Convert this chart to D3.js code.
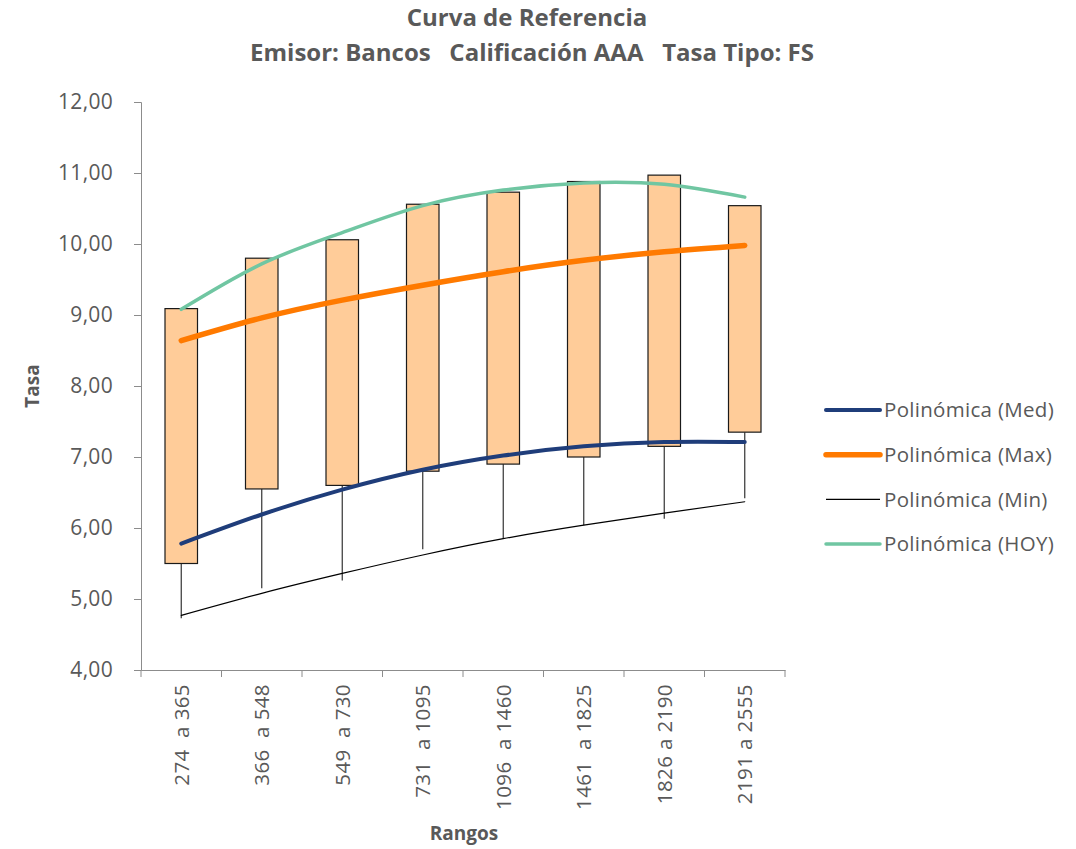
<!DOCTYPE html>
<html>
<head>
<meta charset="utf-8">
<script src="https://cdn.jsdelivr.net/npm/d3@7"></script>
<style>
  body { margin: 0; background: #fff; }
  text { font-family: "Open Sans", sans-serif; fill: #595959; }
</style>
</head>
<body>
<svg id="chart" width="1076" height="849"></svg>
<script>
// categories (rangos de días)
const categories = ["274  a 365", "366  a 548", "549  a 730", "731  a 1095",
                    "1096  a 1460", "1461  a 1825", "1826 a 2190", "2191 a 2555"];

// boxes: bottom / top of the box and bottom of the whisker
const boxLow     = [5.50, 6.55, 6.60, 6.80, 6.90, 7.00, 7.15, 7.35];
const boxHigh    = [9.09, 9.80, 10.06, 10.56, 10.73, 10.88, 10.97, 10.54];
const whiskerLow = [4.73, 5.15, 5.26, 5.70, 5.85, 6.04, 6.13, 6.42];

// trend lines (polinómica) read at each category
const trendMed = [5.78, 6.19, 6.54, 6.82, 7.02, 7.15, 7.21, 7.21];
const trendMax = [8.64, 8.96, 9.21, 9.42, 9.61, 9.77, 9.89, 9.98];
const trendMin = [4.77, 5.08, 5.36, 5.62, 5.85, 6.04, 6.21, 6.37];
const trendHoy = [9.08, 9.72, 10.16, 10.54, 10.76, 10.86, 10.84, 10.66];

const yTicks = [4, 5, 6, 7, 8, 9, 10, 11, 12];

const series = [
  { name: "Polinómica (Med)", values: trendMed, color: "#1f3d7a", width: 4 },
  { name: "Polinómica (Max)", values: trendMax, color: "#ff7a00", width: 5.5 },
  { name: "Polinómica (Min)", values: trendMin, color: "#000000", width: 1.2 },
  { name: "Polinómica (HOY)", values: trendHoy, color: "#70c6a2", width: 3.5 }
];

const svg = d3.select("#chart");
const mLeft = 141, mRight = 785, mTop = 102, mBottom = 670;

const x = d3.scaleBand().domain(categories).range([mLeft, mRight]);
const y = d3.scaleLinear().domain([4, 12]).range([mBottom, mTop]);
const fmt = d => d.toFixed(2).replace(".", ",");

// titles
svg.append("text").attr("x", 527).attr("y", 26).attr("text-anchor", "middle")
  .style("font-weight", "bold").style("font-size", "24px")
  .text("Curva de Referencia");
svg.append("text").attr("x", 532).attr("y", 61).attr("text-anchor", "middle")
  .style("font-weight", "bold").style("font-size", "24px").style("white-space", "pre")
  .text("Emisor: Bancos   Calificación AAA   Tasa Tipo: FS");

// y axis
const yAxis = svg.append("g").attr("transform", `translate(${mLeft},0)`)
  .call(d3.axisLeft(y).tickValues(yTicks).tickFormat(fmt).tickSize(7).tickPadding(21));
yAxis.select(".domain").attr("stroke", "#8c8c8c");
yAxis.selectAll(".tick line").attr("stroke", "#8c8c8c");
yAxis.selectAll(".tick text").style("font-size", "21px").style("letter-spacing", "0.3px")
  .attr("fill", "#595959");

// x axis
const xAxis = svg.append("g").attr("transform", `translate(0,${mBottom})`)
  .call(d3.axisBottom(x).tickSize(0).tickFormat(""));
xAxis.select(".domain").attr("stroke", "#8c8c8c");
svg.append("g").selectAll("line")
  .data(d3.range(categories.length + 1))
  .join("line")
  .attr("x1", i => mLeft + i * x.bandwidth()).attr("x2", i => mLeft + i * x.bandwidth())
  .attr("y1", mBottom).attr("y2", mBottom + 7)
  .attr("stroke", "#8c8c8c");
svg.append("g").selectAll("text")
  .data(categories)
  .join("text")
  .attr("transform", d => `translate(${x(d) + x.bandwidth() / 2 + 7.5},${mBottom + 14}) rotate(-90)`)
  .attr("text-anchor", "end")
  .style("white-space", "pre").style("font-size", "20.5px").style("letter-spacing", "0.4px")
  .text(d => d);

// axis titles
svg.append("text").attr("x", 464).attr("y", 840).attr("text-anchor", "middle")
  .style("font-weight", "bold").style("font-size", "19px").text("Rangos");
svg.append("text").attr("transform", "translate(39,386) rotate(-90)").attr("text-anchor", "middle")
  .style("font-weight", "bold").style("font-size", "19px").text("Tasa");

// whiskers
const cx = d => x(d) + x.bandwidth() / 2;
const boxW = 32.5;
svg.append("g").selectAll("line")
  .data(categories)
  .join("line")
  .attr("x1", cx).attr("x2", cx)
  .attr("y1", (d, i) => y(boxLow[i])).attr("y2", (d, i) => y(whiskerLow[i]))
  .attr("stroke", "#333").attr("stroke-width", 1.2);

// boxes
svg.append("g").selectAll("rect")
  .data(categories)
  .join("rect")
  .attr("x", d => cx(d) - boxW / 2)
  .attr("width", boxW)
  .attr("y", (d, i) => y(boxHigh[i]))
  .attr("height", (d, i) => y(boxLow[i]) - y(boxHigh[i]))
  .attr("fill", "#ffcc99")
  .attr("stroke", "#1a1a1a").attr("stroke-width", 1.2);

// trend lines
const line = d3.line()
  .x((v, i) => cx(categories[i]))
  .y(v => y(v))
  .curve(d3.curveNatural);
svg.append("g").selectAll("path")
  .data([series[2], series[0], series[1], series[3]])
  .join("path")
  .attr("d", s => line(s.values))
  .attr("fill", "none")
  .attr("stroke", s => s.color)
  .attr("stroke-width", s => s.width)
  .attr("stroke-linecap", "round");

// legend
const legend = svg.append("g").selectAll("g")
  .data(series)
  .join("g")
  .attr("transform", (s, i) => `translate(826,${410 + i * 44.7})`);
legend.append("line")
  .attr("x1", 0).attr("x2", 54)
  .attr("stroke", s => s.color)
  .attr("stroke-width", s => s.width)
  .attr("stroke-linecap", s => s.width > 2 ? "round" : "butt");
legend.append("text")
  .attr("x", 58).attr("dy", "0.35em")
  .style("font-size", "20.5px").style("letter-spacing", "0.3px")
  .text(s => s.name);
</script>
</body>
</html>
